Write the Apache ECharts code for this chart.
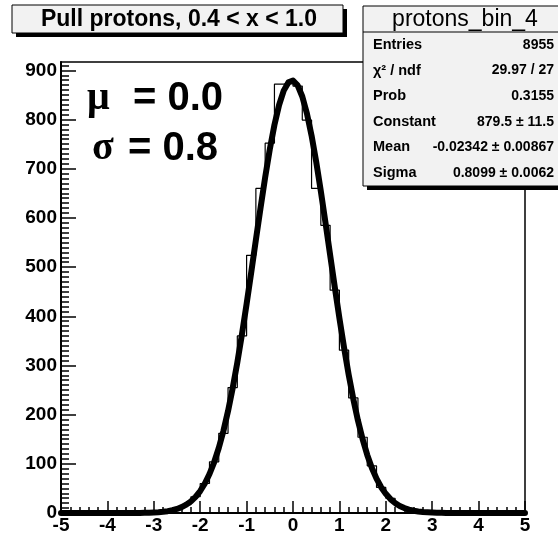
<!DOCTYPE html>
<html><head><meta charset="utf-8">
<script src="https://cdn.jsdelivr.net/npm/echarts@6/dist/echarts.min.js"></script>
<style>html,body{margin:0;padding:0;background:#fff}#c{width:558px;height:537px}</style>
</head><body><div id="c"></div>
<script>
// ---- data ----
const titleText = 'Pull protons, 0.4 < x < 1.0';
const statTitle = 'protons_bin_4';
const statLabels = ['Entries', 'χ² / ndf', 'Prob', 'Constant', 'Mean', 'Sigma'];
const statValues = ['8955', '29.97 / 27', '0.3155', '879.5 ± 11.5', '-0.02342 ± 0.00867', '0.8099 ± 0.0062'];
const muText = ['μ', '= 0.0'];
const sigmaText = ['σ', '= 0.8'];

const xTicks = [-5, -4, -3, -2, -1, 0, 1, 2, 3, 4, 5];
const yTicks = [0, 100, 200, 300, 400, 500, 600, 700, 800, 900];

// histogram: lower bin edges (width 0.2) and counts
const binLow = [-5.0, -4.8, -4.6, -4.4, -4.2, -4.0, -3.8, -3.6, -3.4, -3.2,
                -3.0, -2.8, -2.6, -2.4, -2.2, -2.0, -1.8, -1.6, -1.4, -1.2,
                -1.0, -0.8, -0.6, -0.4, -0.2, 0.0, 0.2, 0.4, 0.6, 0.8,
                 1.0, 1.2, 1.4, 1.6, 1.8, 2.0, 2.2, 2.4, 2.6, 2.8,
                 3.0, 3.2, 3.4, 3.6, 3.8, 4.0, 4.2, 4.4, 4.6, 4.8];
const binCounts = [0, 0, 0, 0, 0, 0, 0, 0, 0, 1,
                   2, 4, 8, 17, 33, 60, 104, 162, 255, 360,
                   524, 660, 752, 872, 876, 868, 799, 660, 585, 453,
                   331, 234, 154, 96, 52, 30, 14, 7, 3, 2,
                   1, 0, 0, 0, 0, 0, 0, 0, 0, 0];
const histMax = 5.0;

// fitted gaussian curve
const fitX = [-5, -4.5, -4, -3.5, -3.4, -3.3, -3.2, -3.1, -3.0, -2.9, -2.8, -2.7, -2.6, -2.5, -2.4, -2.3, -2.2, -2.1,
  -2.0, -1.9, -1.8, -1.7, -1.6, -1.5, -1.4, -1.3, -1.2, -1.1, -1.0, -0.9, -0.8, -0.7, -0.6, -0.5, -0.4, -0.3, -0.2, -0.1,
  0.0, 0.1, 0.2, 0.3, 0.4, 0.5, 0.6, 0.7, 0.8, 0.9, 1.0, 1.1, 1.2, 1.3, 1.4, 1.5, 1.6, 1.7, 1.8, 1.9,
  2.0, 2.1, 2.2, 2.3, 2.4, 2.5, 2.6, 2.7, 2.8, 2.9, 3.0, 3.1, 3.2, 3.3, 3.4, 3.5, 4, 4.5, 5];
const fitY = [0, 0, 0, 0.1, 0.1, 0.2, 0.4, 0.6, 1.0, 1.6, 2.5, 3.7, 5.6, 8.2, 11.9, 16.9, 23.7, 32.8,
  44.7, 60.0, 79.3, 103.1, 132.2, 166.8, 207.3, 253.8, 306.0, 363.4, 425.0, 489.4, 555.2, 620.2, 682.4, 739.5, 789.2, 829.6, 858.8, 875.5,
  879.1, 869.4, 846.8, 812.3, 767.4, 714.0, 654.3, 590.5, 524.9, 459.5, 396.2, 336.4, 281.3, 231.7, 187.9, 150.2, 118.1, 91.6, 69.9, 52.5,
  38.9, 28.3, 20.4, 14.4, 10.0, 6.9, 4.6, 3.1, 2.0, 1.3, 0.8, 0.5, 0.3, 0.2, 0.1, 0.1, 0, 0, 0];

// ---- build ----
const histData = binLow.map((x, i) => [x, binCounts[i]]);
histData.push([histMax, binCounts[binCounts.length - 1]]);
const fitData = fitX.map((x, i) => [x, fitY[i]]);
const yMinor = [];
for (let i = 0; i < yTicks.length; i++) {
  for (let k = 1; k < 10; k++) yMinor.push(yTicks[i] + k * 10);
}
yMinor.push(910);

const SANS = 'Liberation Sans, Arial, sans-serif';
const SERIF = 'Liberation Serif, Times New Roman, serif';

const chart = echarts.init(document.getElementById('c'), null, {renderer: 'canvas'});

const graphics = [];
// title box
graphics.push({type: 'rect', shape: {x: 16, y: 9, width: 331, height: 28}, style: {fill: '#000'}, z: 100});
graphics.push({type: 'rect', shape: {x: 12, y: 5, width: 331, height: 28}, style: {fill: '#f2f2f2', stroke: '#000', lineWidth: 1}, z: 101});
graphics.push({type: 'text', x: 179, y: 20, style: {text: titleText, font: 'bold 23px ' + SANS, fill: '#000', align: 'center', verticalAlign: 'middle'}, z: 102});
// stats box
graphics.push({type: 'rect', shape: {x: 367, y: 10, width: 210, height: 180}, style: {fill: '#000'}, z: 100});
graphics.push({type: 'rect', shape: {x: 363, y: 6, width: 210, height: 180}, style: {fill: '#f2f2f2', stroke: '#000', lineWidth: 1}, z: 101});
graphics.push({type: 'line', shape: {x1: 363, y1: 32, x2: 573, y2: 32}, style: {stroke: '#000', lineWidth: 1}, z: 102});
graphics.push({type: 'text', x: 465, y: 20, style: {text: statTitle, font: '23px ' + SANS, fill: '#000', align: 'center', verticalAlign: 'middle'}, z: 102});
statLabels.forEach((t, i) => {
  const yy = 45 + i * 25.6;
  graphics.push({type: 'text', x: 373, y: yy, style: {text: t, font: 'bold 14.5px ' + SANS, fill: '#000', align: 'left', verticalAlign: 'middle'}, z: 102});
  graphics.push({type: 'text', x: 554, y: yy, style: {text: statValues[i], font: 'bold 14px ' + SANS, fill: '#000', align: 'right', verticalAlign: 'middle'}, z: 102});
});
// mu / sigma annotation
graphics.push({type: 'text', x: 87, y: 99, style: {text: muText[0], font: 'bold 40px ' + SERIF, fill: '#000', align: 'left', verticalAlign: 'middle'}, z: 50});
graphics.push({type: 'text', x: 133, y: 99, style: {text: muText[1], font: 'bold 40px ' + SANS, fill: '#000', align: 'left', verticalAlign: 'middle'}, z: 50});
graphics.push({type: 'text', x: 92, y: 149, style: {text: sigmaText[0], font: 'bold 40px ' + SERIF, fill: '#000', align: 'left', verticalAlign: 'middle'}, z: 50});
graphics.push({type: 'text', x: 128, y: 149, style: {text: sigmaText[1], font: 'bold 40px ' + SANS, fill: '#000', align: 'left', verticalAlign: 'middle'}, z: 50});

chart.setOption({
  animation: false,
  backgroundColor: '#fff',
  grid: {left: 61, right: 33, top: 62, bottom: 24, show: true, borderColor: '#000', borderWidth: 1.5, backgroundColor: '#fff'},
  xAxis: {
    type: 'value', min: -5, max: 5, interval: 1,
    axisLine: {show: true, onZero: false, lineStyle: {color: '#000', width: 2}},
    axisTick: {show: true, inside: true, length: 12, lineStyle: {color: '#000', width: 1.5}},
    minorTick: {show: true, splitNumber: 5, length: 6, lineStyle: {color: '#000', width: 1.5}},
    axisLabel: {color: '#000', fontFamily: SANS, fontWeight: 'bold', fontSize: 19, margin: 3,
      formatter: v => (xTicks.indexOf(v) >= 0 ? String(v) : '')},
    splitLine: {show: false}
  },
  yAxis: [{
    type: 'value', min: 0, max: 917,
    axisLine: {show: true, onZero: false, lineStyle: {color: '#000', width: 2}},
    axisTick: {show: true, inside: true, length: 15, customValues: yTicks, lineStyle: {color: '#000', width: 1.5}},
    axisLabel: {color: '#000', fontFamily: SANS, fontWeight: 'bold', fontSize: 19, margin: 4, customValues: yTicks},
    splitLine: {show: false}
  }, {
    type: 'value', min: 0, max: 917, position: 'left',
    axisLine: {show: false, onZero: false},
    axisTick: {show: true, inside: true, length: 8, customValues: yMinor, lineStyle: {color: '#000', width: 1.5}},
    axisLabel: {show: false},
    splitLine: {show: false}
  }],
  series: [{
    type: 'line', data: histData, step: 'end', symbol: 'none', yAxisIndex: 0,
    lineStyle: {color: '#000', width: 1.2}, z: 3
  }, {
    type: 'line', data: fitData, symbol: 'none', yAxisIndex: 0, clip: false,
    lineStyle: {color: '#000', width: 6, join: 'round', cap: 'round'}, z: 4
  }],
  graphic: graphics
});
</script>
</body></html>
